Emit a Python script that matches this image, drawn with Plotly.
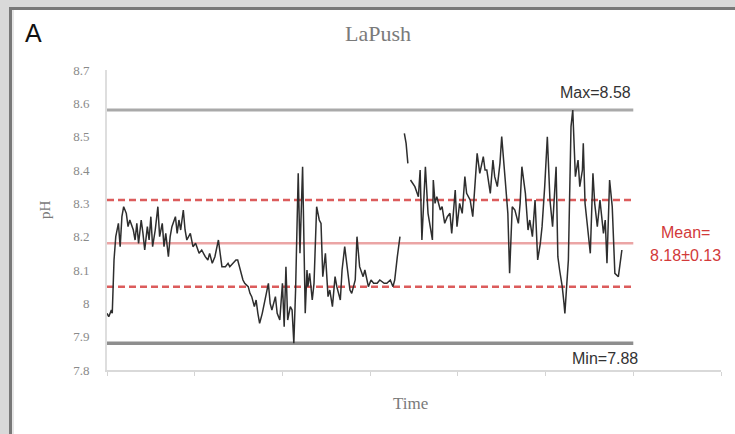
import plotly.graph_objects as go

# pH record at LaPush (time in days from start of deployment)
time_days = [
    0.00, 0.02, 0.05, 0.06, 0.08, 0.10, 0.13, 0.15, 0.17, 0.19, 0.22, 0.24, 0.26, 0.30, 0.32,
    0.34, 0.36, 0.39, 0.41, 0.43, 0.46, 0.48, 0.50, 0.52, 0.55, 0.58, 0.60, 0.63, 0.65, 0.67,
    0.70, 0.72, 0.74, 0.78, 0.80, 0.82, 0.84, 0.87, 0.89, 0.91, 0.95, 0.98, 1.01, 1.05, 1.08,
    1.12, 1.15, 1.17, 1.20, 1.23, 1.27, 1.29, 1.31, 1.35, 1.38, 1.40, 1.44, 1.47, 1.49, 1.52,
    1.55, 1.57, 1.61, 1.63, 1.65, 1.68, 1.70, 1.72, 1.74, 1.77, 1.80, 1.84, 1.86, 1.88, 1.92,
    1.94, 1.97, 2.00, 2.02, 2.04, 2.06, 2.09, 2.11, 2.13, 2.15, 2.18, 2.20, 2.23, 2.26, 2.28,
    2.29, 2.31, 2.34, 2.36, 2.39, 2.42, 2.44, 2.46, 2.49, 2.52, 2.54, 2.57, 2.60, 2.62, 2.66,
    2.68, 2.71, 2.75, 2.77, 2.79, 2.83, 2.85, 2.88, 2.92, 2.94, 2.98, 3.01, 3.04, 3.08, 3.11,
    3.16, 3.19, 3.23, 3.26, 3.28, 3.31, 3.34, 3.37, 3.39, 3.41, 3.43, 3.44, 3.46, 3.49, 3.51,
    3.55, 3.57, 3.59, 3.63, 3.66, 3.68, 3.71, 3.72, 3.74, 3.76, 3.80, 3.82, 3.85, 3.88, 3.91,
    3.93, 3.97, 3.99, 4.02, 4.05, 4.08, 4.10, 4.14, 4.17, 4.20, 4.22, 4.25, 4.29, 4.31, 4.33,
    4.37, 4.40, 4.42, 4.45, 4.48, 4.50, 4.54, 4.57, 4.59, 4.62, 4.65, 4.69, 4.71, 4.73, 4.77,
    4.80, 4.82, 4.85, 4.88, 4.91, 4.94, 4.96, 4.99, 5.02, 5.05, 5.08, 5.12, 5.14, 5.16, 5.19,
    5.21, 5.22, 5.24, 5.26, 5.29, 5.31, 5.34, 5.37, 5.39, 5.42, 5.43, 5.45, 5.47, 5.51, 5.54,
    5.56, 5.59, 5.62, 5.66, 5.68, 5.70, 5.73, 5.76, 5.79, 5.83, 5.85, 5.87,
]
ph = [
    7.97, 7.96, 7.98, 7.97, 8.13, 8.20, 8.24, 8.17, 8.26, 8.29, 8.27, 8.23, 8.25, 8.22, 8.19,
    8.24, 8.18, 8.25, 8.21, 8.16, 8.23, 8.19, 8.26, 8.17, 8.22, 8.29, 8.20, 8.24, 8.17, 8.21,
    8.14, 8.20, 8.23, 8.26, 8.21, 8.25, 8.22, 8.28, 8.22, 8.19, 8.21, 8.17, 8.18, 8.15, 8.16,
    8.14, 8.13, 8.15, 8.12, 8.14, 8.19, 8.14, 8.11, 8.11, 8.12, 8.11, 8.12, 8.13, 8.13, 8.10,
    8.07, 8.06, 8.05, 8.03, 8.02, 7.99, 8.01, 7.97, 7.94, 7.97, 8.01, 8.06, 8.00, 7.98, 8.02,
    7.97, 7.95, 8.06, 7.93, 8.11, 7.95, 7.99, 7.98, 7.88, 8.04, 8.39, 8.15, 8.41, 7.97, 8.10,
    8.05, 8.09, 8.01, 8.06, 8.29, 8.25, 8.24, 8.08, 8.15, 8.02, 8.04, 7.99, 8.08, 8.05, 8.01,
    8.10, 8.17, 8.09, 8.04, 8.03, 8.07, 8.20, 8.11, 8.08, 8.10, 8.05, 8.07, 8.06, 8.06, 8.07,
    8.06, 8.06, 8.07, 8.05, 8.07, 8.14, 8.20, None, 8.51, 8.48, 8.42, None, 8.37, 8.36, 8.35,
    8.32, 8.40, 8.19, 8.41, 8.27, 8.24, 8.19, 8.37, 8.30, 8.32, 8.28, 8.29, 8.24, 8.26, 8.27,
    8.21, 8.34, 8.23, 8.30, 8.27, 8.38, 8.33, 8.31, 8.26, 8.36, 8.45, 8.39, 8.44, 8.40, 8.40,
    8.33, 8.43, 8.38, 8.35, 8.42, 8.50, 8.37, 8.27, 8.09, 8.29, 8.28, 8.24, 8.30, 8.41, 8.33,
    8.22, 8.25, 8.20, 8.31, 8.13, 8.18, 8.23, 8.35, 8.50, 8.31, 8.23, 8.41, 8.14, 8.10, 8.05,
    8.00, 7.97, 8.05, 8.13, 8.53, 8.58, 8.38, 8.43, 8.35, 8.40, 8.48, 8.30, 8.25, 8.15, 8.39,
    8.30, 8.23, 8.31, 8.21, 8.25, 8.12, 8.37, 8.29, 8.09, 8.08, 8.12, 8.16,
]

# Summary statistics
ph_max = 8.58
ph_min = 7.88
ph_mean = 8.18
ph_sd = 0.13
stat_span = [0, 6]

y_ticks = [7.8, 7.9, 8.0, 8.1, 8.2, 8.3, 8.4, 8.5, 8.6, 8.7]
y_tick_labels = ["7.8", "7.9", "8", "8.1", "8.2", "8.3", "8.4", "8.5", "8.6", "8.7"]
x_ticks = [0, 1, 2, 3, 4, 5, 6, 7]

W, H = 735, 434
L, R, T, B = 107, 14, 70, 64
pw, ph_px = W - L - R, H - T - B


def px_x(p):
    return (p - L) / pw


def px_y(p):
    return (H - B - p) / ph_px


serif = "Liberation Serif"
sans = "Liberation Sans"
red = "#d23a3a"

fig = go.Figure()

# reference lines: max, min, mean and mean ± sd
fig.add_trace(go.Scatter(x=stat_span, y=[ph_max, ph_max], mode="lines",
                         line=dict(color="#a9a9a9", width=3), hoverinfo="skip"))
fig.add_trace(go.Scatter(x=stat_span, y=[ph_min, ph_min], mode="lines",
                         line=dict(color="#8e8e8e", width=3.5), hoverinfo="skip"))
fig.add_trace(go.Scatter(x=stat_span, y=[ph_mean, ph_mean], mode="lines",
                         line=dict(color="#eba5a5", width=2.5), hoverinfo="skip"))
for v in (ph_mean + ph_sd, ph_mean - ph_sd):
    fig.add_trace(go.Scatter(x=stat_span, y=[v, v], mode="lines",
                             line=dict(color="#dc5c5c", width=2.5, dash="7px,4px"),
                             hoverinfo="skip"))

# pH time series
fig.add_trace(go.Scatter(x=time_days, y=ph, mode="lines", connectgaps=False,
                         line=dict(color="#2e2e2e", width=1.5), hoverinfo="skip"))


def paper_text(text, x, y, size, family, color, angle=0):
    return dict(text=text, x=px_x(x), y=px_y(y), xref="paper", yref="paper",
                xanchor="center", yanchor="middle", showarrow=False, textangle=angle,
                font=dict(family=family, size=size, color=color))


annotations = [
    paper_text("A", 33, 33, 25, sans, "#111111"),
    paper_text("LaPush", 378, 34, 22, serif, "#7a7a7a"),
    paper_text("pH", 45, 210, 15, serif, "#7a7a7a", angle=-90),
    paper_text("Time", 410, 403, 17, serif, "#7a7a7a"),
    dict(text=f"Max={ph_max:.2f}", x=stat_span[1], y=ph_max, xref="x", yref="y",
         xanchor="right", yanchor="bottom", yshift=7, showarrow=False,
         font=dict(family=sans, size=16, color="#333333")),
    dict(text=f"Min={ph_min:.2f}", x=stat_span[1] + 0.08, y=ph_min, xref="x", yref="y",
         xanchor="right", yanchor="top", yshift=-5, showarrow=False,
         font=dict(family=sans, size=16, color="#333333")),
    dict(text="Mean=", x=6.6, y=ph_mean, xref="x", yref="y",
         yanchor="bottom", yshift=0, showarrow=False,
         font=dict(family=sans, size=16, color=red)),
    dict(text=f"{ph_mean:.2f}±{ph_sd:.2f}", x=6.6, y=ph_mean, xref="x", yref="y",
         yanchor="top", yshift=-2, showarrow=False,
         font=dict(family=sans, size=16, color=red)),
]


def strip(x0, x1, y0, y1, color):
    return dict(type="rect", xref="paper", yref="paper", layer="below",
                x0=px_x(x0), x1=px_x(x1), y0=px_y(y1), y1=px_y(y0),
                fillcolor=color, line=dict(width=0))


# grey backdrop along the top and left, with the dark frame of the white panel
shapes = [
    strip(0, W, 0, 7, "#d9d9d9"),
    strip(0, 9, 0, H, "#d9d9d9"),
    strip(9, W, 7, 10, "#787878"),
    strip(9, 12, 7, H, "#787878"),
    strip(12, 14, 10, H, "#e6e6e6"),
]

fig.update_layout(
    width=W, height=H,
    margin=dict(l=L, r=R, t=T, b=B, pad=0),
    paper_bgcolor="white",
    plot_bgcolor="rgba(0,0,0,0)",
    showlegend=False,
    annotations=annotations,
    shapes=shapes,
    xaxis=dict(range=[0, 7], tickvals=x_ticks, showticklabels=False, ticks="outside",
               ticklen=4, tickcolor="#d4d4d4", showgrid=False, zeroline=False,
               showline=True, linecolor="#d9d9d9", linewidth=2, fixedrange=True),
    yaxis=dict(range=[7.8, 8.7], tickvals=y_ticks, ticktext=y_tick_labels, ticks="",
               showgrid=False, zeroline=False, showline=True, linecolor="#dedede",
               linewidth=2, ticklabelstandoff=13,
               tickfont=dict(family=serif, size=13, color="#8a8a8a"), fixedrange=True),
)

fig.write_html("out.html", config={"displayModeBar": False})
